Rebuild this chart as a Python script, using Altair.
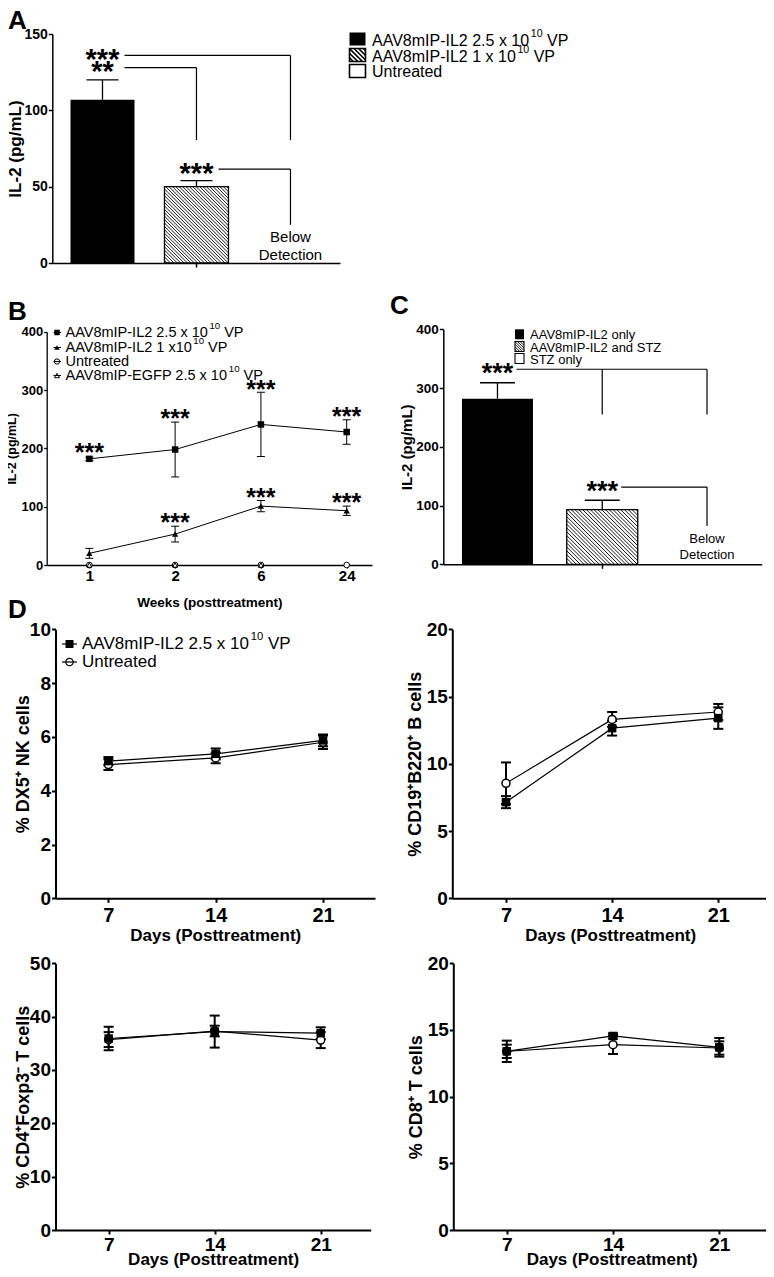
import altair as alt
import pandas as pd

# ===================== DATA =====================
# Panel A : serum IL-2 by vector dose
A_groups = ["AAV8mIP-IL2 2.5 x 10^10 VP", "AAV8mIP-IL2 1 x 10^10 VP", "Untreated"]
A_mean = [107, 50]            # untreated: below detection
A_sem = [13, 4]
A_cmp_from = [1, 1, 2]
A_cmp_to = [3, 2, 3]
A_cmp_level = [136, 128, 61.5]
A_cmp_drop = [80.5, 80.5, 25]
A_cmp_stars = ["***", "**", "***"]
A_yticks = [0, 50, 100, 150]
A_below = ["Below", "Detection"]

# Panel B : IL-2 over time
B_series = ["AAV8mIP-IL2 2.5 x 10^10 VP", "AAV8mIP-IL2 1 x10^10 VP", "Untreated",
            "AAV8mIP-EGFP 2.5 x 10^10 VP"]
B_weeks = ["1", "2", "6", "24"]
B_hi_mean = [182, 198, 241, 228]
B_hi_sem = [3, 47, 55, 21]
B_hi_stars = ["***", "***", "***", "***"]
B_lo_mean = [20, 53, 101, 93]
B_lo_sem = [8.5, 13.5, 9.5, 8]
B_lo_stars = ["", "***", "***", "***"]
B_untr_mean = [0, 0, 0, 0]
B_egfp_mean = [0, 0, 0]
B_yticks = [0, 100, 200, 300, 400]
B_xtitle = "Weeks (posttreatment)"

# Panel C : IL-2 with / without STZ
C_groups = ["AAV8mIP-IL2 only", "AAV8mIP-IL2 and STZ", "STZ only"]
C_mean = [282, 93]
C_sem = [27, 16]
C_cmp_from = [1, 2]
C_cmp_to = [[2, 3], [3]]
C_cmp_level = [332, 131.5]
C_cmp_drop = [255, 65]
C_cmp_stars = ["***", "***"]
C_yticks = [0, 100, 200, 300, 400]

# Panel D : lymphocyte subsets
D_series = ["AAV8mIP-IL2 2.5 x 10^10 VP", "Untreated"]
D_days = [7, 14, 21]
D_xtitle = "Days (Posttreatment)"
D1_title, D1_ticks = "% DX5⁺ NK cells", [0, 2, 4, 6, 8, 10]
D1_il2_mean, D1_il2_sem = [5.1, 5.37, 5.87], [0.15, 0.2, 0.22]
D1_untr_mean, D1_untr_sem = [4.97, 5.22, 5.8], [0.2, 0.2, 0.25]
D2_title, D2_ticks = "% CD19⁺B220⁺ B cells", [0, 5, 10, 15, 20]
D2_il2_mean, D2_il2_sem = [7.15, 12.65, 13.4], [0.45, 0.55, 0.8]
D2_untr_mean, D2_untr_sem = [8.55, 13.3, 13.85], [1.55, 0.55, 0.6]
D3_title, D3_ticks = "% CD4⁺Foxp3⁻ T cells", [0, 10, 20, 30, 40, 50]
D3_il2_mean, D3_il2_sem = [35.9, 37.2, 36.9], [2.2, 3.0, 1.1]
D3_untr_mean, D3_untr_sem = [35.7, 37.3, 35.6], [1.4, 1.0, 1.5]
D4_title, D4_ticks = "% CD8⁺ T cells", [0, 5, 10, 15, 20]
D4_il2_mean, D4_il2_sem = [13.4, 14.55, 13.7], [0.8, 0.2, 0.7]
D4_untr_mean, D4_untr_sem = [13.4, 13.9, 13.65], [0.5, 0.7, 0.5]

# ===================== LAYOUT / STYLE =====================
M = 8
W, H = 758, 1261
FONT = "Liberation Sans"
STAR_C = 0.47     # asterisk glyph centre above baseline, in em

AW = {' ': 278, '-': 333, '.': 278, '/': 278, '(': 333, ')': 333, '%': 889,
      'A': 667, 'B': 667, 'C': 722, 'D': 722, 'E': 667, 'F': 611, 'G': 778, 'I': 278,
      'L': 556, 'P': 667, 'S': 667, 'T': 611, 'U': 722, 'V': 667, 'Z': 611,
      'a': 556, 'd': 556, 'e': 556, 'l': 222, 'm': 833, 'n': 556, 'o': 556, 'r': 333,
      't': 278, 'x': 500, 'y': 500}


def tw(s, fs):
    return sum(AW.get(c, 556) for c in s) / 1000.0 * fs


# panel geometry (page pixels)
pA = dict(xd=[0.466, 3.527], xr=[52.3, 340], yd=[0, 150], yr=[263, 34])
pB = dict(xd=[0.503, 4.295], xr=[46.7, 372], yd=[0, 400], yr=[565, 331.7])
pC = dict(xd=[0.483, 3.522], xr=[443.3, 761.7], yd=[0, 400], yr=[564.3, 329.3])
pD1 = dict(xd=[3.55, 24.39], xr=[55.5, 375], yd=[0, 10], yr=[898.3, 629.3])
pD2 = dict(xd=[3.46, 24.28], xr=[452.3, 768], yd=[0, 20], yr=[898.3, 629.3])
pD3 = dict(xd=[3.49, 24.3], xr=[55.5, 370.7], yd=[0, 50], yr=[1230, 963.3])
pD4 = dict(xd=[3.48, 24.34], xr=[453.3, 770], yd=[0, 20], yr=[1230, 963.3])


def sx(p):
    return alt.Scale(domain=p['xd'], range=[p['xr'][0] - M, p['xr'][1] - M], nice=False, zero=False)


def sy(p):
    return alt.Scale(domain=p['yd'], range=[p['yr'][0] - M, p['yr'][1] - M], nice=False, zero=False)


def ppx(p):
    return (p['xr'][1] - p['xr'][0]) / (p['xd'][1] - p['xd'][0])


def ppy(p):
    return (p['yr'][0] - p['yr'][1]) / (p['yd'][1] - p['yd'][0])


def to_px(p, x, y):
    return (p['xr'][0] + (x - p['xd'][0]) * ppx(p), p['yr'][0] - (y - p['yd'][0]) * ppy(p))


def to_data(p, px, py):
    return (p['xd'][0] + (px - p['xr'][0]) / ppx(p), p['yd'][0] + (p['yr'][0] - py) / ppy(p))


def encoders(p):
    xs, ys = sx(p), sy(p)

    def X(f, ax=None):
        return alt.X(f, type='quantitative', scale=xs, axis=ax if ax is not None else alt.Undefined)

    def Y(f, ax=None):
        return alt.Y(f, type='quantitative', scale=ys, axis=ax if ax is not None else alt.Undefined)
    return X, Y


def yaxis(p, values, title, lfs, tfs, tpad, dw=1.5, tick=4, lpad=1):
    return alt.Axis(orient='left', offset=-(p['xr'][0] - M), values=values, format='d',
                    title=title, labelFontSize=lfs, titleFontSize=tfs, titlePadding=tpad,
                    tickSize=tick, labelPadding=lpad, domainWidth=dw, tickWidth=dw,
                    labelOverlap=False, grid=False)


def xaxis(p, values, lfs=14, title=None, tfs=14, tpad=2, dw=1.5, tick=4, labels=True,
          labelExpr=None, lpad=2):
    kw = dict(orient='bottom', offset=(p['yr'][0] - M) - H, values=values, title=title,
              labelFontSize=lfs, titleFontSize=tfs, titlePadding=tpad, tickSize=tick,
              labelPadding=lpad, domainWidth=dw, tickWidth=dw, labels=labels,
              labelOverlap=False, labelFlush=False, grid=False)
    if labelExpr:
        kw['labelExpr'] = labelExpr
    return alt.Axis(**kw)


def hatch(px0, px1, ptop, pbot, spacing):
    wd, ht = px1 - px0, pbot - ptop
    segs = []
    c = -wd + spacing / 2.0
    while c < ht:
        u0, u1 = max(0.0, -c), min(wd, ht - c)
        if u1 > u0:
            segs.append((px0 + u0, ptop + u0 + c, px0 + u1, ptop + u1 + c))
        c += spacing
    return segs


def split_sup(label):
    if '^' in label:
        base, rest = label.split('^', 1)
        sup, tail = rest.split(' ', 1)
        return base, sup, tail
    return label, '', ''


def pix_text(rows, fs, weight='normal', align='left', baseline='middle', dy=0):
    df = pd.DataFrame(rows)
    return alt.Chart(df).mark_text(font=FONT, fontSize=fs, fontWeight=weight, align=align,
                                   baseline=baseline, color='black', dy=dy).encode(
        x=alt.X('x:Q', scale=None, axis=None), y=alt.Y('y:Q', scale=None, axis=None), text='t:N')


def legend_text(labels, x, ys, fs):
    main, sup = [], []
    sfs = round(fs * 0.66, 1)
    for lab, y in zip(labels, ys):
        base, s, tail = split_sup(lab)
        main.append(dict(x=x - M, y=y - M, t=base))
        if s:
            xs_ = x + tw(base, fs) + 0.5
            sup.append(dict(x=xs_ - M, y=y - 0.42 * fs - M, t=s))
            main.append(dict(x=xs_ + tw(s, sfs) + tw(' ', fs) - M, y=y - M, t=tail.strip()))
    out = [pix_text(main, fs)]
    if sup:
        out.append(pix_text(sup, sfs))
    return out


def pix_rules(segs, width, color='black'):
    df = pd.DataFrame([dict(x=a - M, y=b - M, x2=c - M, y2=d - M) for a, b, c, d in segs])
    return alt.Chart(df).mark_rule(color=color, strokeWidth=width).encode(
        x=alt.X('x:Q', scale=None, axis=None), y=alt.Y('y:Q', scale=None, axis=None),
        x2='x2:Q', y2='y2:Q')


def pix_rects(rows, fill, stroke=None, sw=1.5):
    df = pd.DataFrame([dict(x=a - M, y=b - M, x2=c - M, y2=d - M) for a, b, c, d in rows])
    kw = dict(fill=fill)
    if stroke:
        kw.update(stroke=stroke, strokeWidth=sw)
    return alt.Chart(df).mark_rect(**kw).encode(
        x=alt.X('x:Q', scale=None, axis=None), y=alt.Y('y:Q', scale=None, axis=None),
        x2='x2:Q', y2='y2:Q')


# ===================== BAR PANELS (A, C) =====================
def bar_panel(p, means, sems, half_px, cap_px, ytick_vals, ytitle, lfs, tfs, tpad,
              cmp_from, cmp_to, cmp_level, cmp_drop, cmp_stars, star_fs, gap_px,
              below_lines, below_px, below_fs, below_lh, hatch_sp):
    X, Y = encoders(p)
    hw = half_px / ppx(p)
    n = len(means)
    bars = pd.DataFrame(dict(pos=list(range(1, n + 1)), mean=means, sem=sems))
    bars['x0'] = bars['pos'] - hw
    bars['x1'] = bars['pos'] + hw
    bars['zero'] = 0.0
    bars['top'] = bars['mean'] + bars['sem']

    layers = []
    solid = alt.Chart(bars.iloc[[0]]).mark_rect(fill='black').encode(
        x=X('x0', xaxis(p, [2], labels=False, dw=1.5, tick=4)), x2='x1',
        y=Y('zero', yaxis(p, ytick_vals, ytitle, lfs, tfs, tpad)), y2='mean')
    layers.append(solid)
    hb = bars.iloc[[1]]
    layers.append(alt.Chart(hb).mark_rect(fill='white').encode(
        x=X('x0'), x2='x1', y=Y('zero'), y2='mean'))
    r = hb.iloc[0]
    px0, ptop = to_px(p, r['x0'], r['mean'])
    px1, pbot = to_px(p, r['x1'], 0)
    hd = []
    for a, b, c, d in hatch(px0, px1, ptop, pbot, hatch_sp):
        xa, ya = to_data(p, a, b)
        xb, yb = to_data(p, c, d)
        hd.append(dict(xa=xa, ya=ya, xb=xb, yb=yb))
    layers.append(alt.Chart(pd.DataFrame(hd)).mark_rule(color='black', strokeWidth=0.9).encode(
        x=X('xa'), y=Y('ya'), x2='xb', y2='yb'))
    layers.append(alt.Chart(hb).mark_rect(fill='white', fillOpacity=0, stroke='black',
                                          strokeWidth=1.3).encode(
        x=X('x0'), x2='x1', y=Y('zero'), y2='mean'))
    layers.append(alt.Chart(bars).mark_rule(color='black', strokeWidth=1.3).encode(
        x=X('pos'), y=Y('mean'), y2='top'))
    layers.append(alt.Chart(bars).mark_tick(orient='horizontal', size=cap_px, thickness=1.3,
                                            color='black', opacity=1).encode(
        x=X('pos'), y=Y('top')))
    hrows, vrows, srows = [], [], []
    for f, t, lv, dr, st in zip(cmp_from, cmp_to, cmp_level, cmp_drop, cmp_stars):
        targets = t if isinstance(t, list) else [t]
        hrows.append(dict(x=f + gap_px / ppx(p), x2=max(targets), y=lv))
        for tt in targets:
            vrows.append(dict(x=tt, y=lv, y2=dr))
        srows.append(dict(x=f, y=lv, t=st))
    layers.append(alt.Chart(pd.DataFrame(hrows)).mark_rule(color='black', strokeWidth=1.2).encode(
        x=X('x'), x2='x2', y=Y('y')))
    layers.append(alt.Chart(pd.DataFrame(vrows)).mark_rule(color='black', strokeWidth=1.2).encode(
        x=X('x'), y=Y('y'), y2='y2'))
    layers.append(alt.Chart(pd.DataFrame(srows)).mark_text(
        font=FONT, fontSize=star_fs, fontWeight='bold', align='center', baseline='alphabetic',
        dy=round(STAR_C * star_fs, 1), color='black').encode(x=X('x'), y=Y('y'), text='t:N'))
    brows = []
    k = len(below_lines)
    for i, line in enumerate(below_lines):
        py = below_px + (i - (k - 1) / 2.0) * below_lh
        brows.append(dict(x=3, y=to_data(p, 0, py)[1], t=line))
    layers.append(alt.Chart(pd.DataFrame(brows)).mark_text(
        font=FONT, fontSize=below_fs, align='center', baseline='middle', color='black').encode(
        x=X('x'), y=Y('y'), text='t:N'))
    return alt.layer(*layers)


panelA = bar_panel(pA, A_mean, A_sem, 32, 32, A_yticks, "IL-2 (pg/mL)", 14, 17, -1,
                   A_cmp_from, A_cmp_to, A_cmp_level, A_cmp_drop, A_cmp_stars, 29, 22,
                   A_below, 246, 15, 18, 3.4)
panelC = bar_panel(pC, C_mean, C_sem, 35.5, 35, C_yticks, "IL-2 (pg/mL)", 13.5, 15, 1,
                   C_cmp_from, C_cmp_to, C_cmp_level, C_cmp_drop, C_cmp_stars, 27, 19,
                   A_below, 547, 13, 16, 3.8)


# ===================== PANEL B =====================
def panel_b():
    p = pB
    X, Y = encoders(p)
    pos = list(range(1, len(B_weeks) + 1))
    hi = pd.DataFrame(dict(pos=pos, m=B_hi_mean, s=B_hi_sem, t=B_hi_stars))
    lo = pd.DataFrame(dict(pos=pos, m=B_lo_mean, s=B_lo_sem, t=B_lo_stars))
    for d in (hi, lo):
        d['lo'] = d['m'] - d['s']
        d['hi'] = d['m'] + d['s']
        # star anchor: just above the error cap or the marker, whichever is higher
        d['anchor'] = [max(h, m + 3.5 / ppy(p)) for h, m in zip(d['hi'], d['m'])]
    un = pd.DataFrame(dict(pos=pos, m=B_untr_mean))
    eg = pd.DataFrame(dict(pos=pos[:len(B_egfp_mean)], m=B_egfp_mean))
    lab_expr = "[" + ",".join("'%s'" % w for w in B_weeks) + "][datum.value - 1]"
    layers = []
    layers.append(alt.Chart(hi).mark_line(color='black', strokeWidth=1).encode(
        x=X('pos', xaxis(p, pos, lfs=15, title=B_xtitle, tfs=13.5, tpad=12, dw=1.3, tick=3,
                         labelExpr=lab_expr, lpad=0)),
        y=Y('m', yaxis(p, B_yticks, "IL-2 (pg/mL)", 13, 12.5, 2.5, dw=1.3, tick=3))))
    layers.append(alt.Chart(lo).mark_line(color='black', strokeWidth=1).encode(x=X('pos'), y=Y('m')))
    for d in (hi, lo):
        layers.append(alt.Chart(d).mark_rule(color='black', strokeWidth=1).encode(
            x=X('pos'), y=Y('lo'), y2='hi'))
        for f in ('lo', 'hi'):
            layers.append(alt.Chart(d).mark_tick(orient='horizontal', size=8, thickness=1,
                                                 color='black', opacity=1).encode(x=X('pos'), y=Y(f)))
    layers.append(alt.Chart(hi).mark_point(shape='square', filled=True, size=42, color='black',
                                           opacity=1).encode(x=X('pos'), y=Y('m')))
    layers.append(alt.Chart(lo).mark_point(shape='triangle-up', filled=True, size=40, color='black',
                                           opacity=1).encode(x=X('pos'), y=Y('m')))
    layers.append(alt.Chart(un).mark_point(shape='circle', fill='white', stroke='black',
                                           strokeWidth=1, size=32, opacity=1).encode(
        x=X('pos'), y=Y('m')))
    layers.append(alt.Chart(eg).mark_point(shape='triangle-up', fill='white', fillOpacity=0,
                                           stroke='black', strokeWidth=1, size=26, opacity=1).encode(
        x=X('pos'), y=Y('m')))
    fs = 25
    for d in (hi, lo):
        layers.append(alt.Chart(d).mark_text(
            font=FONT, fontSize=fs, fontWeight='bold', align='center', baseline='alphabetic',
            dy=round(STAR_C * fs - 6.5, 1), color='black').encode(x=X('pos'), y=Y('anchor'), text='t:N'))
    return alt.layer(*layers)


panelB = panel_b()


# ===================== PANEL D =====================
def panel_d(p, ticks, ytitle, im, isem, um, usem, tpad, xtpad, xlfs, xlpad):
    X, Y = encoders(p)
    il = pd.DataFrame(dict(day=D_days, m=im, s=isem))
    ut = pd.DataFrame(dict(day=D_days, m=um, s=usem))
    for d in (il, ut):
        d['lo'] = d['m'] - d['s']
        d['hi'] = d['m'] + d['s']
    layers = []
    layers.append(alt.Chart(ut).mark_line(color='black', strokeWidth=1.2).encode(
        x=X('day', xaxis(p, D_days, lfs=xlfs, title=D_xtitle, tfs=17, tpad=xtpad, dw=2, tick=4,
                         lpad=xlpad)),
        y=Y('m', yaxis(p, ticks, ytitle, 19, 18, tpad, dw=2, tick=4))))
    layers.append(alt.Chart(il).mark_line(color='black', strokeWidth=1.2).encode(x=X('day'), y=Y('m')))
    for d in (ut, il):
        layers.append(alt.Chart(d).mark_rule(color='black', strokeWidth=2).encode(
            x=X('day'), y=Y('lo'), y2='hi'))
        for f in ('lo', 'hi'):
            layers.append(alt.Chart(d).mark_tick(orient='horizontal', size=10, thickness=2,
                                                 color='black', opacity=1).encode(x=X('day'), y=Y(f)))
    layers.append(alt.Chart(ut).mark_point(shape='circle', fill='white', stroke='black',
                                           strokeWidth=1.5, size=64, opacity=1).encode(
        x=X('day'), y=Y('m')))
    layers.append(alt.Chart(il).mark_point(shape='square', filled=True, size=72, color='black',
                                           opacity=1).encode(x=X('day'), y=Y('m')))
    return alt.layer(*layers)


panelD1 = panel_d(pD1, D1_ticks, D1_title, D1_il2_mean, D1_il2_sem, D1_untr_mean, D1_untr_sem,
                  -3, 2, 20, 3)
panelD2 = panel_d(pD2, D2_ticks, D2_title, D2_il2_mean, D2_il2_sem, D2_untr_mean, D2_untr_sem,
                  2, 2, 20, 3)
panelD3 = panel_d(pD3, D3_ticks, D3_title, D3_il2_mean, D3_il2_sem, D3_untr_mean, D3_untr_sem,
                  -3, -3, 19, 1)
panelD4 = panel_d(pD4, D4_ticks, D4_title, D4_il2_mean, D4_il2_sem, D4_untr_mean, D4_untr_sem,
                  2, -3, 19, 1)

# ===================== LEGENDS & LETTERS =====================
deco = []
deco.append(pix_text([dict(x=0, y=29 - M, t="A"), dict(x=0, y=320 - M, t="B"),
                      dict(x=390 - M, y=314 - M, t="C"), dict(x=0, y=618 - M, t="D")],
                     26, weight='bold', baseline='alphabetic'))

# legend A
lgA_rows = [39, 55, 71]
deco.append(pix_rects([(349.5, lgA_rows[0] - 6.5, 365.5, lgA_rows[0] + 6.5)], 'black'))
deco.append(pix_rects([(349.5, y - 6.5, 365.5, y + 6.5) for y in lgA_rows[1:]], 'white'))
deco.append(pix_rules(hatch(349.5, 365.5, lgA_rows[1] - 6.5, lgA_rows[1] + 6.5, 4.6), 1.6))
deco.append(pix_rects([(349.5, y - 6.5, 365.5, y + 6.5) for y in lgA_rows[1:]], 'transparent',
                      stroke='black', sw=1.6))
deco += legend_text(A_groups, 372, [41, 56.5, 71.5], 16)

# legend C
lgC_rows = [334.3, 346.5, 358.5]
deco.append(pix_rects([(515, lgC_rows[0] - 5, 524, lgC_rows[0] + 5)], 'black'))
deco.append(pix_rects([(515, y - 5, 524, y + 5) for y in lgC_rows[1:]], 'white'))
deco.append(pix_rules(hatch(515, 524, lgC_rows[1] - 5, lgC_rows[1] + 5, 2.6), 0.9))
deco.append(pix_rects([(515, y - 5, 524, y + 5) for y in lgC_rows[1:]], 'transparent',
                      stroke='black', sw=1.1))
deco += legend_text(C_groups, 530, [334.8, 347.5, 360], 13)

# legend B
lgB_rows = [332.5, 347.5, 361.5, 375.5]
lgB_df = pd.DataFrame(dict(x=[57 - M] * 4, y=[v - M for v in lgB_rows]))
deco.append(pix_rules([(53.5, y, 61, y) for y in lgB_rows], 1))
for i, (shape, filled, sz) in enumerate([('square', True, 30), ('triangle-up', True, 30),
                                          ('circle', False, 28), ('triangle-up', False, 26)]):
    kw = dict(color='black') if filled else dict(fill='white', fillOpacity=0, stroke='black', strokeWidth=1)
    deco.append(alt.Chart(lgB_df.iloc[[i]]).mark_point(shape=shape, filled=filled, size=sz, opacity=1,
                                                       **kw).encode(
        x=alt.X('x:Q', scale=None, axis=None), y=alt.Y('y:Q', scale=None, axis=None)))
deco += legend_text(B_series, 65.5, lgB_rows, 14.5)

# legend D
lgD_rows = [644, 662]
lgD_df = pd.DataFrame(dict(x=[69.5 - M] * 2, y=[v - M for v in lgD_rows]))
deco.append(pix_rules([(62, y, 77, y) for y in lgD_rows], 1.2))
deco.append(alt.Chart(lgD_df.iloc[[0]]).mark_point(shape='square', filled=True, size=64, color='black',
                                                   opacity=1).encode(
    x=alt.X('x:Q', scale=None, axis=None), y=alt.Y('y:Q', scale=None, axis=None)))
deco.append(alt.Chart(lgD_df.iloc[[1]]).mark_point(shape='circle', fill='white', fillOpacity=0,
                                                   stroke='black', strokeWidth=1.2, size=55,
                                                   opacity=1).encode(
    x=alt.X('x:Q', scale=None, axis=None), y=alt.Y('y:Q', scale=None, axis=None)))
deco += legend_text(D_series, 82, lgD_rows, 17)

chart = alt.layer(panelA, panelB, panelC, panelD1, panelD2, panelD3, panelD4, *deco).resolve_scale(
    x='independent', y='independent'
).properties(
    width=W, height=H, autosize=alt.AutoSizeParams(type='none'), padding=0
).configure_view(stroke=None).configure_axis(
    grid=False, domainColor='black', tickColor='black', labelColor='black', titleColor='black',
    labelFont=FONT, titleFont=FONT, labelFontWeight='bold', titleFontWeight='bold'
)

chart.save("out.html", embed_options={"renderer": "svg", "actions": False})
